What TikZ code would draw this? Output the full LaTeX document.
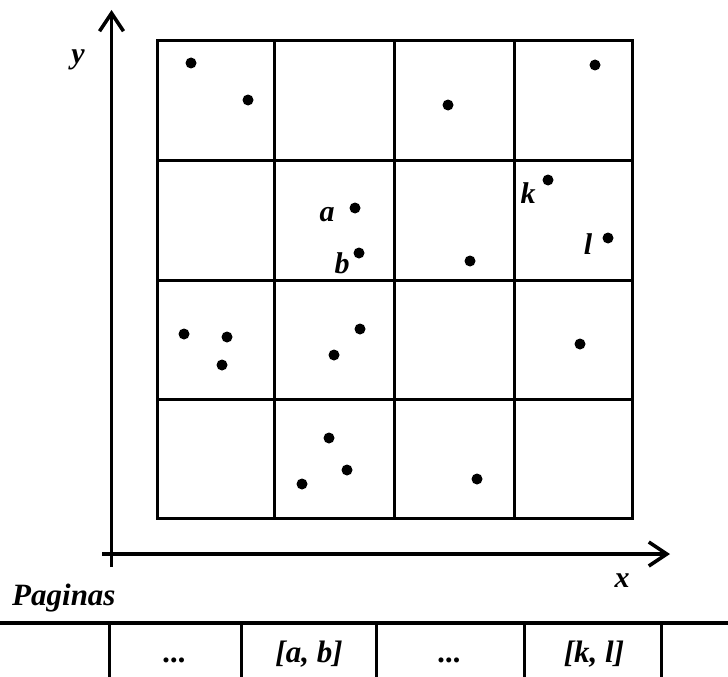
\documentclass[tikz,border=0pt]{standalone}
\usepackage{fontspec}
\setmainfont{Liberation Serif}
\usepackage{tikz}
\usetikzlibrary{arrows.meta,positioning}

\tikzset{
  punto/.style={circle, fill=black, inner sep=0pt, minimum size=11pt},
  etiq/.style={font=\fontsize{30}{32}\selectfont\bfseries\itshape, inner sep=0pt},
  celda/.style={font=\fontsize{31}{33}\selectfont\bfseries\itshape, inner sep=0pt, anchor=base},
}

\begin{document}
\begin{tikzpicture}[x=1pt, y=-1pt, >={Straight Barb[length=18pt, width=24pt]}]
  \useasboundingbox (0,0) rectangle (728,677);

  % --- 1. Axes ---
  \coordinate (ybot) at (111.5,567);
  \coordinate (ytop) at (111.5,10);
  \coordinate (xizq) at (102,554);
  \coordinate (xder) at (670,554);
  \draw[->, line width=3.6pt] (ybot) -- (ytop);
  \draw[->, line width=3.6pt] (xizq) -- (xder);
  \node[etiq] (ly) at (78,60) {y};
  \node[etiq] (lx) at (622,581) {x};

  % --- 2. Grid 4x4 ---
  \draw[line width=3pt] (157,41) rectangle (632,518);
  \foreach \c in {274,394,514}
    \draw[line width=3pt] (\c,41) -- (\c,518);
  \foreach \f in {160,280,399}
    \draw[line width=3pt] (157,\f) -- (632,\f);

  % --- 3. Points ---
  \foreach \px/\py [count=\i] in {191/63, 248/100, 448/105, 595/65,
      470/261, 184/334, 227/337, 222/365, 360/329, 334/355,
      580/344, 329/438, 347/470, 302/484, 477/479}
    \node[punto] (p\i) at (\px,\py) {};
  \node[punto] (pa) at (355,208) {};
  \node[punto] (pb) at (359,253) {};
  \node[punto] (pk) at (548,180) {};
  \node[punto] (pl) at (608,238) {};

  % labels of the query points
  \node[etiq] (la) at (327,215) {a};
  \node[etiq] (lb) at (342,263) {b};
  \node[etiq] (lk) at (528,193) {k};
  \node[etiq] (ll) at (588,244) {l};

  % --- 4. Pages ---
  \node[celda, anchor=base west] (pag) at (12,605) {Paginas};
  \draw[line width=3.2pt] (0,623) -- (728,623);
  \foreach \c in {109,241,376,524,661}
    \draw[line width=3pt] (\c,623) -- (\c,677);
  \node[celda] (c1) at (175,662) {...};
  \node[celda] (c2) at (309,662) {[a, b]};
  \node[celda] (c3) at (450,662) {...};
  \node[celda] (c4) at (594,662) {[k, l]};

\end{tikzpicture}
\end{document}
